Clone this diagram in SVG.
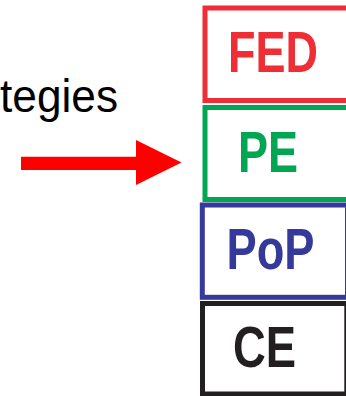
<svg xmlns="http://www.w3.org/2000/svg" width="346" height="396" viewBox="0 0 346 396">
<style>
.box{fill:#fff;stroke-width:5}
.lbl{font-family:"Liberation Sans",Arial,sans-serif;font-weight:bold;font-size:57px}
.cap{font-family:"Liberation Sans",Arial,sans-serif;font-size:46px;fill:#000}
</style>
<rect width="346" height="396" fill="#fff"/>
<text class="cap" x="0" y="111.5" textLength="118" lengthAdjust="spacingAndGlyphs">tegies</text>
<g id="connectors">
<polygon points="21,156.7 136,156.7 136,140 181.5,162.5 136,185 136,170 21,170" fill="#ff0000"/>
</g>
<g id="FED">
<rect class="box" x="205" y="8" width="150" height="92.5" stroke="#ee2d35"/>
<text class="lbl" x="228" y="72" fill="#ee2d35" textLength="90" lengthAdjust="spacingAndGlyphs">FED</text>
</g>
<g id="PE">
<rect class="box" x="205" y="107.5" width="150" height="92" stroke="#00a651"/>
<text class="lbl" x="238" y="171.7" fill="#00a651" textLength="60" lengthAdjust="spacingAndGlyphs">PE</text>
</g>
<g id="PoP">
<rect class="box" x="202.3" y="205" width="145.2" height="92.3" stroke="#35399a"/>
<text class="lbl" x="226.5" y="269.3" fill="#35399a" textLength="88" lengthAdjust="spacingAndGlyphs">PoP</text>
</g>
<g id="CE">
<rect class="box" x="202.5" y="303.5" width="144.3" height="90.5" stroke="#231f20"/>
<text class="lbl" x="233" y="367" fill="#231f20" textLength="63" lengthAdjust="spacingAndGlyphs">CE</text>
</g>
</svg>
